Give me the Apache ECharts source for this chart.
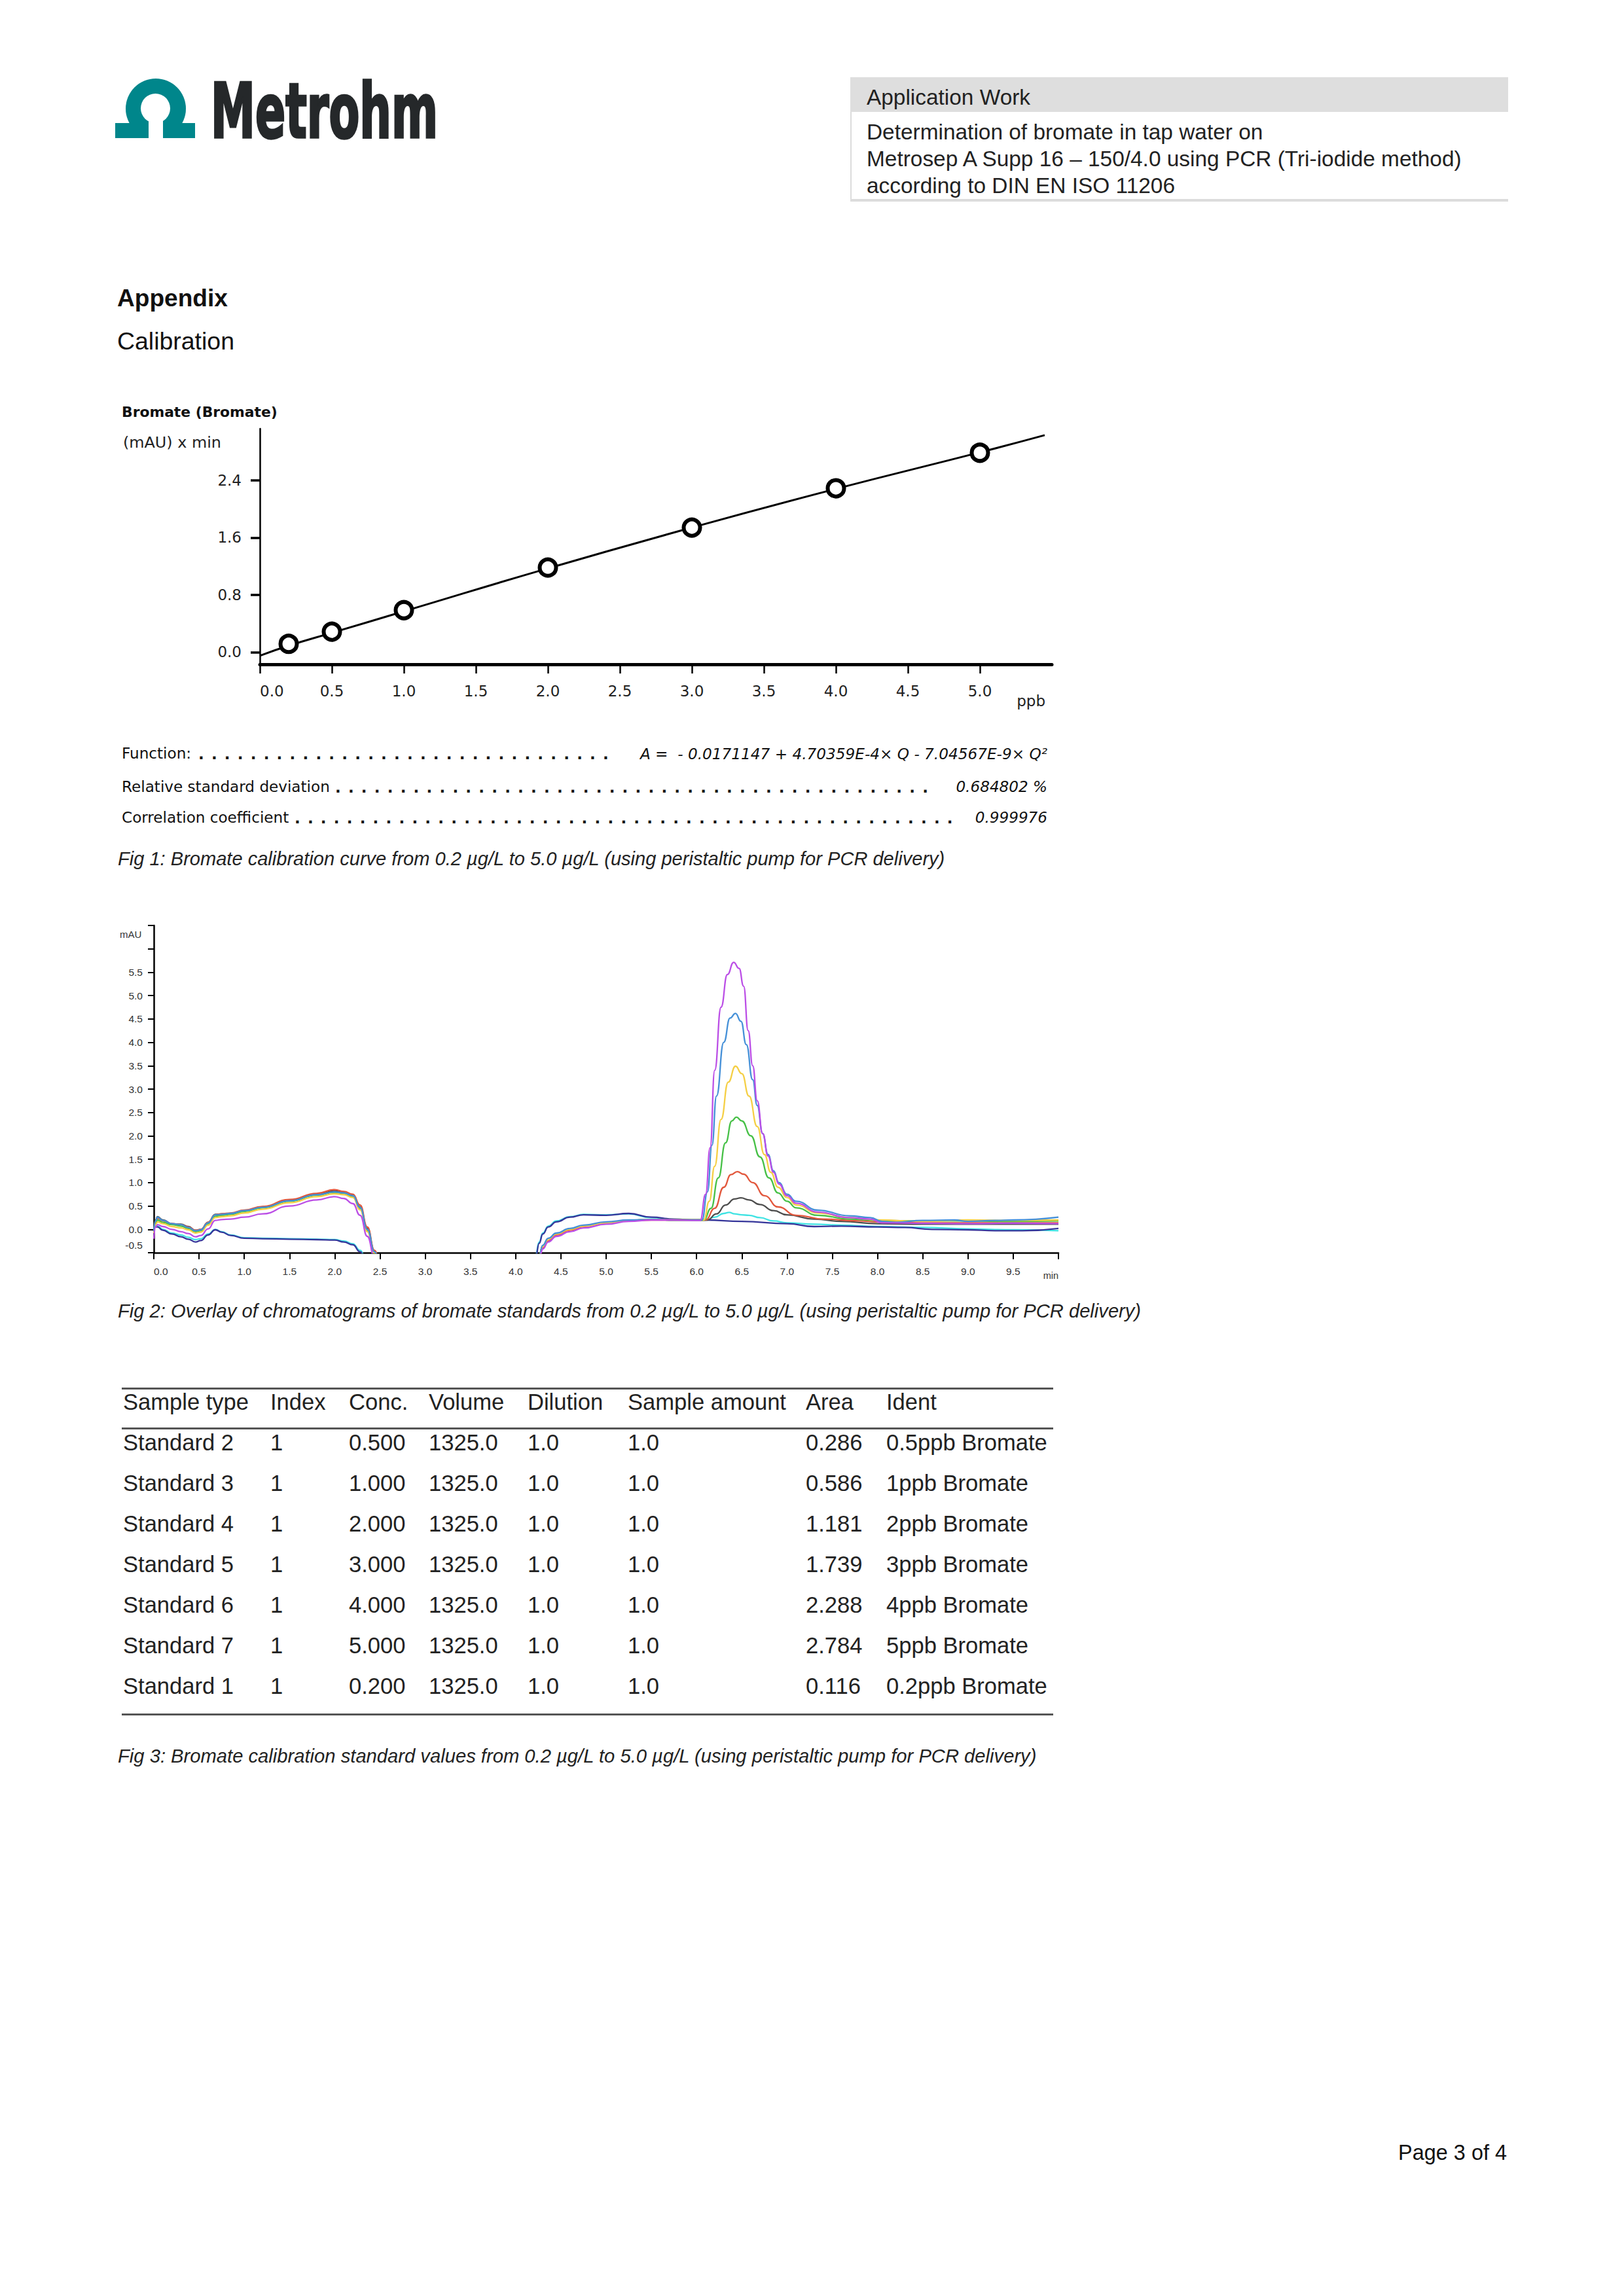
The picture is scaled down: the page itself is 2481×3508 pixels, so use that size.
<!DOCTYPE html>
<html>
<head>
<meta charset="utf-8">
<title>Bromate calibration – Appendix</title>
<script src="https://cdn.jsdelivr.net/npm/echarts@6.0.0/dist/echarts.min.js"></script>
<style>
html,body{margin:0;padding:0;background:#fff;}
#page{position:relative;width:2481px;height:3508px;overflow:hidden;font-family:"Liberation Sans",Arial,sans-serif;color:#1e1e1e;background:#fff;}
.t{position:absolute;line-height:1;white-space:nowrap;transform:translateY(-50%);}
.hd{font-size:32px;color:#222;}
.cap{font-style:italic;font-size:25px;left:180px;color:#222;}
.ct{font-family:"DejaVu Sans",sans-serif;color:#111;}
.rowlab{font-size:23px;}
.rowval{font-size:23px;font-style:italic;}
.lead{position:absolute;white-space:nowrap;line-height:1;transform:translateY(-50%);font-family:"DejaVu Sans",sans-serif;font-weight:bold;font-size:23px;letter-spacing:11.2px;color:#111;}
.tb{font-size:33.5px;color:#222;}
.rule{position:absolute;height:3px;background:#555;left:186px;width:1423px;}
#chart1{position:absolute;left:100px;top:600px;width:1600px;height:520px;}
#chart2{position:absolute;left:100px;top:1390px;width:1600px;height:600px;}
</style>
</head>
<body>
<div id="page">
  <svg style="position:absolute;left:176px;top:120px" width="122" height="92" viewBox="0 0 122 92">
    <circle cx="62" cy="46" r="46" fill="#00868b"/>
    <rect x="0" y="68" width="51" height="23" fill="#00868b"/>
    <rect x="73" y="68" width="49" height="23" fill="#00868b"/>
    <circle cx="61.5" cy="45.5" r="22.5" fill="#ffffff"/>
    <rect x="51" y="62" width="22" height="30" fill="#ffffff"/>
  </svg>
  <div id="brand" class="t" style="left:322px;top:170px;font-family:'Liberation Sans Narrow','DejaVu Sans Condensed','Liberation Sans',sans-serif;font-weight:bold;font-size:116px;color:#25282a;-webkit-text-stroke:3.5px #25282a;transform-origin:0 50%;">Metrohm</div>

  <div style="position:absolute;left:1299px;top:118px;width:1005px;height:53px;background:#dedede"></div>
  <div style="position:absolute;left:1299px;top:171px;width:2px;height:136px;background:#dcdcdc"></div>
  <div style="position:absolute;left:1299px;top:304px;width:1005px;height:4px;background:#dcdcdc"></div>
  <div class="t hd" style="left:1324px;top:149px">Application Work</div>
  <div class="t hd" style="left:1324px;top:202px">Determination of bromate in tap water on</div>
  <div class="t hd" id="hdfit" style="left:1324px;top:243px">Metrosep A Supp 16 – 150/4.0 using PCR (Tri-iodide method)</div>
  <div class="t hd" style="left:1324px;top:284px">according to DIN EN ISO 11206</div>

  <div class="t" id="appx" style="left:179px;top:456px;font-size:37px;font-weight:bold;color:#111">Appendix</div>
  <div class="t" id="calib" style="left:179px;top:522px;font-size:36px;color:#111">Calibration</div>

  <div id="chart1"></div>
  <div class="t ct" id="c1title" style="left:186px;top:630px;font-size:22px;font-weight:bold">Bromate (Bromate)</div>
  <div class="t ct" id="c1unit" style="left:188px;top:677px;font-size:22px;color:#222">(mAU) x min</div>

  <div class="t ct rowlab" style="left:186px;top:1152px">Function:</div>
  <div class="lead" style="left:303px;top:1152px" id="lead1"></div>
  <div class="t ct rowval" id="fnval" style="right:881px;top:1152px">A =&nbsp; - 0.0171147 + 4.70359E-4× Q - 7.04567E-9× Q²</div>

  <div class="t ct rowlab" id="rsdlab" style="left:186px;top:1203px">Relative standard deviation</div>
  <div class="lead" style="left:512px;top:1203px" id="lead2"></div>
  <div class="t ct rowval" style="right:881px;top:1203px">0.684802 %</div>

  <div class="t ct rowlab" style="left:186px;top:1250px">Correlation coefficient</div>
  <div class="lead" style="left:450px;top:1250px" id="lead3"></div>
  <div class="t ct rowval" style="right:881px;top:1250px">0.999976</div>

  <div class="t cap" id="cap1" style="top:1313px">Fig 1: Bromate calibration curve from 0.2 µg/L to 5.0 µg/L (using peristaltic pump for PCR delivery)</div>

  <div id="chart2"></div>
  <div class="t" style="left:183px;top:1427px;font-size:15px;color:#333">mAU</div>

  <div class="t cap" id="cap2" style="top:2004px">Fig 2: Overlay of chromatograms of bromate standards from 0.2 µg/L to 5.0 µg/L (using peristaltic pump for PCR delivery)</div>

  <div id="table"></div>

  <div class="t cap" id="cap3" style="top:2684px">Fig 3: Bromate calibration standard values from 0.2 µg/L to 5.0 µg/L (using peristaltic pump for PCR delivery)</div>

  <div class="t" id="footer" style="right:179px;top:3289px;font-size:32.5px;color:#111">Page 3 of 4</div>
</div>

<script>
// ---------------- DATA ----------------
// Table (Fig 3)
const tableHeaders   = ['Sample type', 'Index', 'Conc.', 'Volume', 'Dilution', 'Sample amount', 'Area', 'Ident'];
const sampleTypes    = ['Standard 2', 'Standard 3', 'Standard 4', 'Standard 5', 'Standard 6', 'Standard 7', 'Standard 1'];
const sampleIndex    = ['1', '1', '1', '1', '1', '1', '1'];
const sampleConc     = ['0.500', '1.000', '2.000', '3.000', '4.000', '5.000', '0.200'];
const sampleVolume   = ['1325.0', '1325.0', '1325.0', '1325.0', '1325.0', '1325.0', '1325.0'];
const sampleDilution = ['1.0', '1.0', '1.0', '1.0', '1.0', '1.0', '1.0'];
const sampleAmount   = ['1.0', '1.0', '1.0', '1.0', '1.0', '1.0', '1.0'];
const sampleArea     = ['0.286', '0.586', '1.181', '1.739', '2.288', '2.784', '0.116'];
const sampleIdent    = ['0.5ppb Bromate', '1ppb Bromate', '2ppb Bromate', '3ppb Bromate', '4ppb Bromate', '5ppb Bromate', '0.2ppb Bromate'];

// Calibration curve (Fig 1)
const calCurve = [[0, -0.05], [0.2, 0.09], [0.5, 0.27], [1.0, 0.57], [2.0, 1.17], [3.0, 1.74], [4.0, 2.28], [5.0, 2.79], [5.45, 3.03]];
const calYTicks = [0, 0.8, 1.6, 2.4];

// Chromatograms (Fig 2)
const tLeft = [0.00, 0.02, 0.04, 0.10, 0.20, 0.30, 0.38, 0.46, 0.52, 0.60, 0.68, 0.75, 0.85, 1.00, 1.20, 1.50, 1.80, 2.00, 2.10, 2.20, 2.28, 2.36, 2.44, 2.52];
const tRise = [4.22, 4.26, 4.30, 4.36, 4.45, 4.60, 4.75, 5.00, 5.25, 5.50, 5.75, 6.00];
const offScale = [3.3, -3.0];

const std5Left  = [-0.20, 0.05, 0.10, 0.06, 0.00, -0.05, -0.09, -0.16, -0.13, 0.01, 0.19, 0.21, 0.22, 0.26, 0.33, 0.50, 0.63, 0.70, 0.66, 0.55, 0.30, -0.15, -0.60, -1.05];
const std5Rise  = [-0.95, -0.62, -0.42, -0.27, -0.15, -0.05, 0.03, 0.11, 0.17, 0.20, 0.20, 0.19];
const std5Peak  = [[6.04, 0.19], [6.10, 0.75], [6.15, 1.75], [6.20, 3.4], [6.27, 4.75], [6.34, 5.45], [6.41, 5.71], [6.47, 5.58], [6.52, 5.2], [6.57, 4.25], [6.62, 3.5], [6.67, 2.75], [6.73, 2.05], [6.79, 1.57], [6.85, 1.22], [6.91, 0.97], [7.00, 0.72], [7.10, 0.56], [7.34, 0.37], [7.69, 0.25], [7.92, 0.22], [8.05, 0.14], [8.5, 0.13], [9.0, 0.12], [9.5, 0.13], [10.0, 0.12]];

const std4Left  = [-0.04, 0.18, 0.26, 0.19, 0.12, 0.10, 0.04, -0.03, -0.01, 0.14, 0.31, 0.32, 0.34, 0.40, 0.47, 0.61, 0.74, 0.80, 0.78, 0.72, 0.47, 0.00, -0.48, -0.98];
const std4Rise  = [-0.90, -0.55, -0.34, -0.19, -0.08, 0.02, 0.09, 0.16, 0.20, 0.21, 0.20, 0.20];
const std4Peak  = [[6.06, 0.2], [6.12, 0.8], [6.17, 1.8], [6.22, 2.85], [6.30, 4.0], [6.37, 4.52], [6.43, 4.62], [6.49, 4.45], [6.55, 3.95], [6.62, 3.2], [6.67, 2.65], [6.73, 2.05], [6.79, 1.6], [6.85, 1.25], [6.91, 1.0], [7.0, 0.75], [7.1, 0.6], [7.34, 0.41], [7.69, 0.29], [7.92, 0.25], [8.05, 0.17], [8.2, 0.15], [8.5, 0.19], [8.85, 0.2], [9.0, 0.17], [9.3, 0.19], [9.5, 0.2], [10.0, 0.26]];

const std3Left  = [-0.08, 0.10, 0.16, 0.12, 0.06, 0.03, -0.01, -0.08, -0.06, 0.09, 0.25, 0.27, 0.29, 0.35, 0.43, 0.57, 0.70, 0.76, 0.74, 0.68, 0.42, -0.05, -0.52, -1.00];
const std3Rise  = [-0.90, -0.57, -0.36, -0.21, -0.10, 0.00, 0.07, 0.14, 0.19, 0.21, 0.20, 0.20];
const std3Peak  = [[6.08, 0.2], [6.14, 0.6], [6.20, 1.35], [6.27, 2.35], [6.35, 3.15], [6.43, 3.49], [6.50, 3.33], [6.58, 2.85], [6.67, 2.2], [6.75, 1.6], [6.82, 1.22], [6.90, 0.9], [7.0, 0.68], [7.1, 0.52], [7.34, 0.35], [7.69, 0.25], [8.0, 0.2], [8.5, 0.17], [9.0, 0.2], [9.5, 0.19], [10.0, 0.2]];

const std2Left  = [-0.06, 0.12, 0.20, 0.15, 0.10, 0.07, 0.02, -0.05, -0.03, 0.12, 0.28, 0.30, 0.32, 0.38, 0.46, 0.60, 0.73, 0.79, 0.77, 0.70, 0.45, -0.02, -0.50, -1.00];
const std2Rise  = [-0.90, -0.55, -0.35, -0.20, -0.09, 0.01, 0.08, 0.15, 0.19, 0.21, 0.20, 0.20];
const std2Peak  = [[6.08, 0.2], [6.16, 0.45], [6.24, 1.1], [6.32, 1.85], [6.39, 2.32], [6.44, 2.40], [6.50, 2.32], [6.60, 2.0], [6.70, 1.55], [6.80, 1.1], [6.90, 0.78], [7.0, 0.6], [7.1, 0.46], [7.34, 0.3], [7.69, 0.22], [8.0, 0.19], [8.5, 0.18], [9.0, 0.18], [9.5, 0.17], [10.0, 0.18]];

const std1Left  = [-0.05, 0.15, 0.24, 0.18, 0.12, 0.10, 0.05, -0.02, 0.00, 0.15, 0.31, 0.33, 0.35, 0.41, 0.49, 0.64, 0.77, 0.85, 0.81, 0.75, 0.52, 0.05, -0.45, -0.95];
const std1Rise  = [-0.90, -0.60, -0.40, -0.25, -0.12, -0.02, 0.06, 0.13, 0.18, 0.20, 0.20, 0.20];
const std1Peak  = [[6.10, 0.2], [6.20, 0.45], [6.30, 0.9], [6.38, 1.17], [6.45, 1.235], [6.52, 1.18], [6.62, 1.0], [6.75, 0.72], [6.90, 0.48], [7.1, 0.3], [7.4, 0.22], [7.8, 0.18], [8.0, 0.16], [8.5, 0.14], [9.0, 0.14], [9.5, 0.14], [10.0, 0.14]];

const std05Left = [-0.05, 0.20, 0.27, 0.20, 0.12, 0.11, 0.06, -0.02, 0.00, 0.15, 0.32, 0.33, 0.34, 0.40, 0.48, 0.62, 0.75, 0.82, 0.79, 0.73, 0.48, 0.02, -0.47, -0.97];
const std05Rise = [-0.90, -0.56, -0.35, -0.20, -0.09, 0.01, 0.08, 0.15, 0.19, 0.21, 0.20, 0.20];
const std05Peak = [[6.12, 0.2], [6.22, 0.33], [6.32, 0.52], [6.42, 0.65], [6.49, 0.675], [6.58, 0.63], [6.70, 0.53], [6.85, 0.4], [7.0, 0.31], [7.3, 0.22], [7.6, 0.17], [8.0, 0.12], [8.5, 0.11], [9.0, 0.11], [9.5, 0.11], [10.0, 0.11]];

const std02Left = [0.02, 0.07, 0.07, 0.00, -0.08, -0.12, -0.17, -0.22, -0.20, -0.10, 0.00, -0.05, -0.12, -0.18, -0.19, -0.20, -0.21, -0.22, -0.25, -0.31, -0.45, -0.78, -1.10, -1.30];
const std02Rise = [-0.55, -0.27, -0.08, 0.07, 0.18, 0.27, 0.32, 0.31, 0.33, 0.25, 0.21, 0.20];
const std02Peak = [[6.10, 0.2], [6.20, 0.26], [6.30, 0.34], [6.36, 0.363], [6.42, 0.33], [6.50, 0.31], [6.58, 0.3], [6.70, 0.25], [6.85, 0.18], [7.0, 0.14], [7.3, 0.11], [7.6, 0.09], [8.0, 0.06], [8.5, 0.04], [9.0, 0.01], [9.5, -0.01], [10.0, -0.03]];

const blankLeft = [0.00, 0.05, 0.05, -0.02, -0.10, -0.16, -0.21, -0.27, -0.24, -0.12, -0.01, -0.06, -0.13, -0.19, -0.20, -0.21, -0.22, -0.23, -0.27, -0.33, -0.48, -0.80, -1.10, -1.30];
const blankRise = [-0.60, -0.30, -0.10, 0.05, 0.16, 0.26, 0.31, 0.30, 0.34, 0.26, 0.22, 0.20];
const blankPeak = [[6.10, 0.2], [6.50, 0.17], [7.0, 0.12], [7.3, 0.06], [7.6, 0.07], [8.0, 0.05], [8.3, 0.04], [8.6, 0.0], [9.0, -0.01], [9.3, -0.03], [9.6, -0.03], [10.0, 0.02]];

const traceNames  = ['0.2ppb', 'Blank', '0.5ppb', '1ppb', '2ppb', '3ppb', '4ppb', '5ppb'];
const traceColors = ['#3fe3e3', '#35359a', '#4d4d4d', '#e2573c', '#46c046', '#f5cf45', '#4590d8', '#bb4ee6'];
const traceParts  = [
  [std02Left, std02Rise, std02Peak],
  [blankLeft, blankRise, blankPeak],
  [std05Left, std05Rise, std05Peak],
  [std1Left, std1Rise, std1Peak],
  [std2Left, std2Rise, std2Peak],
  [std3Left, std3Rise, std3Peak],
  [std4Left, std4Rise, std4Peak],
  [std5Left, std5Rise, std5Peak]
];

// ---------------- LAYOUT HELPERS ----------------
function fitWidth(el, target) {
  const w = el.getBoundingClientRect().width;
  if (w > 0) {
    const fs = parseFloat(getComputedStyle(el).fontSize);
    el.style.fontSize = (fs * target / w) + 'px';
    return fs * target / w;
  }
  return null;
}
const $ = id => document.getElementById(id);

// header
const hdSize = fitWidth($('hdfit'), 909);
if (hdSize) document.querySelectorAll('.hd').forEach(e => e.style.fontSize = hdSize + 'px');
fitWidth($('appx'), 169);
fitWidth($('calib'), 179);
(function () {
  const b = $('brand');
  const w = b.getBoundingClientRect().width;
  if (w > 0) b.style.transform = 'translateY(-50%) scaleX(' + (347 / w) + ')';
})();

fitWidth($('c1title'), 238);
fitWidth($('c1unit'), 150);
const rowSize = fitWidth($('rsdlab'), 318);
if (rowSize) document.querySelectorAll('.rowlab,.rowval').forEach(e => e.style.fontSize = rowSize + 'px');
fitWidth($('fnval'), 622);

// dotted leaders: exactly as many dots as fit in the gap
[['lead1', 651], ['lead2', 920], ['lead3', 1026]].forEach(([id, avail]) => {
  const el = $(id);
  el.textContent = '.'.repeat(20);
  const per = el.getBoundingClientRect().width / 20;
  const n = Math.max(1, Math.floor(avail / per));
  el.textContent = '.'.repeat(n);
});

fitWidth($('cap1'), 1264);
fitWidth($('cap2'), 1564);
fitWidth($('cap3'), 1404);
fitWidth($('footer'), 166);

// table
(function () {
  const page = $('page');
  const colX = [188, 413, 533, 655, 806, 959, 1231, 1354];
  const headerY = 2142, rowY0 = 2204, rowStep = 62;
  [2121, 2182, 2619].forEach(y => {
    const r = document.createElement('div');
    r.className = 'rule';
    r.style.top = (y - 1) + 'px';
    page.appendChild(r);
  });
  const cells = [];
  function cell(text, x, y) {
    const d = document.createElement('div');
    d.className = 't tb';
    d.style.left = x + 'px';
    d.style.top = y + 'px';
    d.textContent = text;
    page.appendChild(d);
    cells.push(d);
    return d;
  }
  const hdrCells = tableHeaders.map((h, i) => cell(h, colX[i], headerY));
  const cols = [sampleTypes, sampleIndex, sampleConc, sampleVolume, sampleDilution, sampleAmount, sampleArea, sampleIdent];
  sampleTypes.forEach((_, r) => {
    cols.forEach((col, c) => cell(col[r], colX[c], rowY0 + r * rowStep));
  });
  const ts = fitWidth(hdrCells[5], 242);
  if (ts) cells.forEach(e => e.style.fontSize = ts + 'px');
})();

// ---------------- CHART 1: calibration ----------------
const calPoints = sampleConc.map((c, i) => [parseFloat(c), parseFloat(sampleArea[i])]);
const c1Font = 'DejaVu Sans';
const chart1 = echarts.init($('chart1'), null, { renderer: 'svg' });
chart1.setOption({
  animation: false,
  grid: { left: 297, top: 55, width: 1210, height: 360, containLabel: false },
  xAxis: {
    type: 'value', min: 0, max: 5.5, interval: 0.5,
    axisLine: { show: true, onZero: false, lineStyle: { color: '#000', width: 5 } },
    axisTick: { show: true, length: 14, lineStyle: { color: '#000', width: 2.5 } },
    axisLabel: {
      fontFamily: c1Font, fontSize: 23, color: '#222', margin: 29,
      showMaxLabel: false, alignMinLabel: 'left',
      formatter: v => v.toFixed(1)
    },
    splitLine: { show: false },
    name: 'ppb', nameLocation: 'end', nameGap: -10,
    nameTextStyle: { fontFamily: c1Font, fontSize: 23, color: '#222', align: 'right', verticalAlign: 'top', padding: [44, 0, 0, 0] }
  },
  yAxis: {
    type: 'value', min: -0.17, max: 3.12,
    axisLine: { show: true, onZero: false, lineStyle: { color: '#000', width: 2.5 } },
    axisTick: { show: true, customValues: calYTicks, length: 14, lineStyle: { color: '#000', width: 3.5 } },
    axisLabel: {
      customValues: calYTicks, fontFamily: c1Font, fontSize: 23, color: '#222', margin: 28,
      formatter: v => v.toFixed(1)
    },
    splitLine: { show: false }
  },
  series: [
    {
      type: 'line', data: calCurve, smooth: true, symbol: 'none',
      lineStyle: { color: '#000', width: 3 }, z: 2, silent: true
    },
    {
      type: 'scatter', data: calPoints, symbol: 'circle', symbolSize: 25,
      itemStyle: { color: '#fff', borderColor: '#000', borderWidth: 6, opacity: 1 }, z: 3, silent: true
    }
  ]
});

// ---------------- CHART 2: chromatograms ----------------
function traceData(leftVals, riseVals, peakPairs) {
  return tLeft.map((t, i) => [t, leftVals[i]])
    .concat([offScale])
    .concat(tRise.map((t, i) => [t, riseVals[i]]))
    .concat(peakPairs);
}
const chart2 = echarts.init($('chart2'), null, { renderer: 'svg' });
chart2.setOption({
  animation: false,
  grid: { left: 135, top: 24, width: 1382, height: 500, containLabel: false },
  xAxis: {
    type: 'value', min: 0, max: 10, interval: 0.5,
    axisLine: { show: true, onZero: false, lineStyle: { color: '#000', width: 2.5 } },
    axisTick: { show: true, length: 10, lineStyle: { color: '#000', width: 2 } },
    axisLabel: {
      fontFamily: 'Liberation Sans', fontSize: 15.5, color: '#333', margin: 20,
      alignMinLabel: 'left', alignMaxLabel: 'right',
      formatter: v => (Math.abs(v - 10) < 1e-6 ? '{m|min}' : v.toFixed(1)),
      rich: { m: { fontFamily: 'Liberation Sans', fontSize: 14.5, color: '#333', padding: [7, 0, 0, 0] } }
    },
    splitLine: { show: false }
  },
  yAxis: {
    type: 'value', min: -0.5, max: 6.5, interval: 0.5,
    axisLine: { show: true, onZero: false, lineStyle: { color: '#000', width: 2.5 } },
    axisTick: { show: true, length: 9, lineStyle: { color: '#000', width: 2 } },
    axisLabel: {
      fontFamily: 'Liberation Sans', fontSize: 15.5, color: '#333', margin: 17,
      formatter: v => {
        if (v > 5.75) return '';
        if (Math.abs(v + 0.5) < 1e-6) return '{b|-0.5}';
        return v.toFixed(1);
      },
      rich: { b: { fontFamily: 'Liberation Sans', fontSize: 15.5, color: '#333', padding: [0, 0, 24, 0] } }
    },
    splitLine: { show: false }
  },
  series: traceParts.map((p, i) => ({
    name: traceNames[i],
    type: 'line',
    data: traceData(p[0], p[1], p[2]),
    smooth: true, smoothMonotone: 'x',
    showSymbol: false, symbol: 'none', clip: true, silent: true,
    lineStyle: { color: traceColors[i], width: 2.3 },
    z: 2 + i
  }))
});
</script>
</body>
</html>
